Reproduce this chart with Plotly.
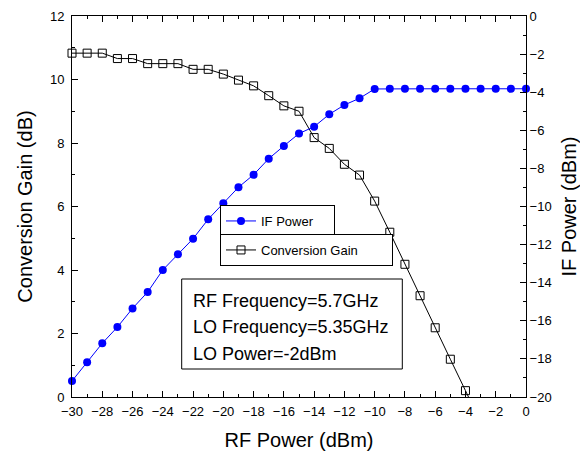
import plotly.graph_objects as go

rf_power = list(range(-30, 1))
if_power = [-19.16, -18.18, -17.18, -16.33, -15.35, -14.49, -13.33, -12.51, -11.69, -10.67,
            -9.83, -8.99, -8.33, -7.49, -6.82, -6.17, -5.81, -5.16, -4.67, -4.32,
            -3.83, -3.82, -3.82, -3.82, -3.82, -3.82, -3.82, -3.82, -3.82, -3.82, -3.82]
conv_gain = [10.83, 10.83, 10.83, 10.66, 10.66, 10.5, 10.5, 10.5, 10.32, 10.32,
             10.17, 9.98, 9.8, 9.49, 9.17, 9.0, 8.17, 7.83, 7.33, 6.99,
             6.17, 5.19, 4.18, 3.19, 2.18, 1.19, 0.2, -0.8, -1.8, -2.8, -3.8]
info_lines = ["RF Frequency=5.7GHz", "LO Frequency=5.35GHz", "LO Power=-2dBm"]

# the page body adds an 8px offset; the figure is sized so the plot area lands
# at screen x 72..526, y 16..397
OFF = 8
W, H = 588 - OFF, 455 - OFF
L, R, T, B = 72 - OFF, 62, 16 - OFF, 58
PW, PH = W - L - R, H - T - B

def px(x):  # screen px -> paper
    return (x - OFF - L) / PW

def py(y):
    return (T + PH - (y - OFF)) / PH

FONT = "Arial, Liberation Sans, sans-serif"

fig = go.Figure()
fig.add_trace(go.Scatter(
    x=rf_power, y=if_power, yaxis="y2", name="IF Power", mode="lines+markers",
    line=dict(color="#0000ff", width=1),
    marker=dict(symbol="circle", size=8, color="#0000ff"),
    cliponaxis=False, legend="legend"))
fig.add_trace(go.Scatter(
    x=rf_power, y=conv_gain, name="Conversion Gain", mode="lines+markers",
    line=dict(color="black", width=1),
    marker=dict(symbol="square-open", size=8, color="black", line=dict(width=1, color="black")),
    cliponaxis=False, legend="legend2"))

axis_common = dict(showgrid=False, zeroline=False, showline=True, linecolor="black", linewidth=1,
                   ticks="inside", ticklen=6, tickcolor="black", tickwidth=1, automargin=False,
                   tickfont=dict(family=FONT, size=13, color="black"))
minor = dict(dtick=1, ticks="inside", ticklen=3, tickcolor="black")

fig.update_layout(
    width=W, height=H,
    margin=dict(l=L, r=R, t=T, b=B, pad=0, autoexpand=False),
    paper_bgcolor="white", plot_bgcolor="white",
    font=dict(family=FONT, color="black"),
    xaxis=dict(range=[-30, 0], tick0=-30, dtick=2, mirror="ticks", minor=minor, ticklabelstandoff=2,
               title=dict(text="RF Power (dBm)", font=dict(family=FONT, size=20), standoff=15),
               **axis_common),
    yaxis=dict(range=[0, 12], tick0=0, dtick=2, minor=minor, ticklabelstandoff=4,
               title=dict(text="Conversion Gain (dB)", font=dict(family=FONT, size=20), standoff=11),
               **axis_common),
    yaxis2=dict(range=[-20, 0], tick0=0, dtick=2, overlaying="y", side="right", minor=minor,
                title=dict(text="IF Power (dBm)", font=dict(family=FONT, size=20), standoff=11),
                **axis_common),
    legend=dict(x=px(220), y=py(205), xanchor="left", yanchor="top", orientation="h",
                entrywidth=68, bordercolor="black", borderwidth=1, bgcolor="white",
                font=dict(family=FONT, size=13)),
    legend2=dict(x=px(220), y=py(234), xanchor="left", yanchor="top", orientation="h",
                 entrywidth=126, bordercolor="black", borderwidth=1, bgcolor="white",
                 font=dict(family=FONT, size=13)),
    showlegend=True,
)

fig.add_shape(type="rect", xref="paper", yref="paper",
              x0=px(181.7), x1=px(402.3), y0=py(369), y1=py(279),
              line=dict(color="black", width=1), fillcolor="rgba(0,0,0,0)")
for i, t in enumerate(info_lines):
    fig.add_annotation(text=t, xref="paper", yref="paper", x=px(191), y=py(300.5 + 26.5 * i),
                       xanchor="left", yanchor="middle", showarrow=False,
                       font=dict(family=FONT, size=18, color="black"))

fig.write_html("out.html")
